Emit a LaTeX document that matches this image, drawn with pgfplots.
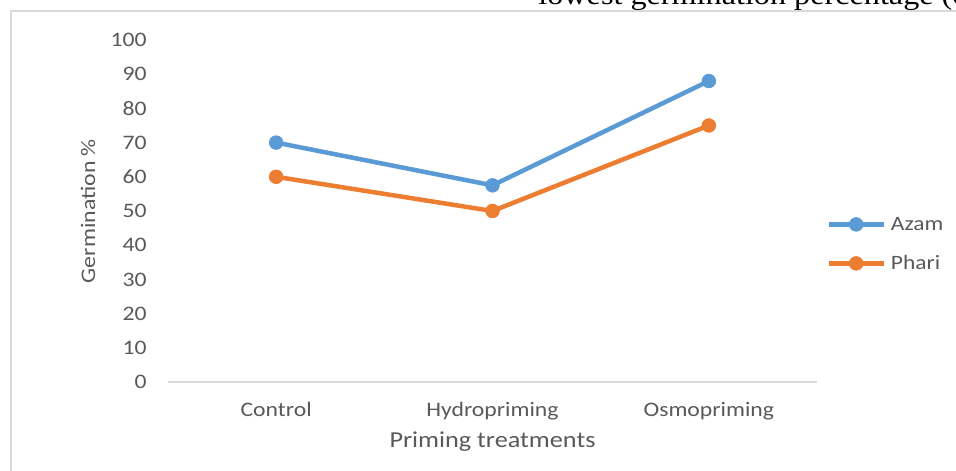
\documentclass[border=0pt]{standalone}
\usepackage{fontspec}
\setmainfont{Carlito}[FakeStretch=1.15]
\newfontfamily\serifdoc{Liberation Serif}[FakeStretch=1.15]
\usepackage{pgfplots}
\pgfplotsset{compat=1.18}
\usetikzlibrary{calc}
\definecolor{azam}{HTML}{5B9BD5}
\definecolor{phari}{HTML}{ED7D31}
\definecolor{txt}{HTML}{595959}
\definecolor{framec}{HTML}{D9D9D9}
\begin{document}
\begin{tikzpicture}
\begin{axis}[
  scale only axis, width=324.5pt, height=171pt,
  xmin=-0.5, xmax=2.5, ymin=0, ymax=100,
  xtick={0,1,2}, xticklabels={Control,Hydropriming,Osmopriming},
  ytick={0,10,...,100},
  major tick length=0pt,
  axis x line*=bottom, axis y line*=left,
  x axis line style={draw=framec, line width=0.6pt, -},
  y axis line style={draw=none, -},
  /pgf/number format/assume math mode=true,
  tick label style={font=\fontsize{10.3}{12}\selectfont, text=txt},
  yticklabel style={anchor=east, inner sep=0pt, xshift=-10.5pt},
  xticklabel style={anchor=base, inner sep=0pt, yshift=-17pt},
  xlabel={Priming treatments}, ylabel={Germination \%},
  every axis x label/.style={at={(rel axis cs:0.5,-0.19006)}, anchor=base, font=\fontsize{11.4}{13}\selectfont, text=txt},
  every axis y label/.style={at={(rel axis cs:-0.1233,0.5)}, rotate=90, anchor=center, font=\fontsize{10.35}{12}\selectfont, text=txt},
  legend style={draw=none, fill=none, at={(rel axis cs:1.0139,0.4912)}, anchor=north west, inner sep=0pt, row sep=9.5pt, column sep=2.5pt, nodes={inner sep=0pt, text height=8pt, text depth=2pt, anchor=west}, font=\fontsize{10.2}{12}\selectfont, text=txt},
  legend cell align=left,
  legend image code/.code={\draw[mark repeat=2, mark phase=2] plot coordinates {(0pt,0pt) (13.75pt,0pt) (27.5pt,0pt)};},
  clip=false,
]
\addplot[azam, line width=2.25pt, mark=*, mark size=3.4pt, mark options={solid, fill=azam, draw=azam, line width=0.4pt}] coordinates {(0,70) (1,57.5) (2,88)};
\addlegendentry{Azam}
\addplot[phari, line width=2.25pt, mark=*, mark size=3.4pt, mark options={solid, fill=phari, draw=phari, line width=0.4pt}] coordinates {(0,60) (1,50) (2,75)};
\addlegendentry{Phari}
\coordinate (O) at (rel axis cs:0,0);
\end{axis}
\begin{scope}
\clip ($(O)+(-84pt,-44pt)$) rectangle ($(O)+(394pt,191pt)$);
\draw[framec, line width=1.25pt] ($(O)+(-78.5pt,-60pt)$) -- ($(O)+(-78.5pt,185.5pt)$) -- ($(O)+(410pt,185.5pt)$);
\node[anchor=base west, inner sep=0pt, font=\serifdoc\fontsize{14}{16}\selectfont] at ($(O)+(185pt,188.5pt)$) {lowest germination percentage (c};
\end{scope}
\pgfresetboundingbox
\path[use as bounding box] ($(O)+(-84pt,-44pt)$) rectangle ($(O)+(394pt,191pt)$);
\end{tikzpicture}
\end{document}
